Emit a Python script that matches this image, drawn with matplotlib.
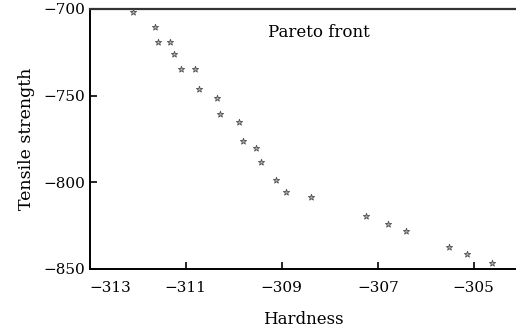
import numpy as np
import matplotlib
matplotlib.use('Agg')
import matplotlib.pyplot as plt

# Pareto front points
hardness = [-312.09, -311.65, -311.57, -311.33, -311.24, -311.10, -310.80, -310.72,
            -310.35, -310.29, -309.90, -309.81, -309.54, -309.44, -309.12, -308.91,
            -308.39, -307.24, -306.79, -306.42, -305.51, -305.14, -304.61]
tensile = [-701.9, -710.4, -719.0, -719.2, -725.8, -734.4, -734.6, -746.2,
           -751.3, -760.4, -765.4, -776.2, -780.2, -788.3, -798.5, -805.6,
           -808.3, -819.3, -824.0, -827.9, -837.5, -841.5, -846.7]

x_ticks = [-313, -311, -309, -307, -305]
y_ticks = [-700, -750, -800, -850]

plt.rcParams['font.family'] = 'DejaVu Serif'
plt.rcParams['mathtext.fontset'] = 'dejavuserif'

fig = plt.figure(figsize=(5.16, 3.28), dpi=100)
ax = fig.add_axes([0.174, 0.180, 0.826, 0.7926])

ax.scatter(hardness, tensile, marker='*', s=22, facecolor='#b5b5b5',
           edgecolor='#505050', linewidth=0.6, zorder=3)

ax.set_xlim(-313, -304.12)
ax.set_ylim(-850, -700)
ax.set_xticks(x_ticks)
ax.set_yticks(y_ticks)
ax.set_xticklabels(['\u2212' + str(abs(t)) for t in x_ticks])
ax.set_yticklabels(['\u2212' + str(abs(t)) for t in y_ticks])
ax.get_xticklabels()[0].set_horizontalalignment('left')

ax.tick_params(direction='in', length=5, width=1.2, labelsize=11, pad=9)
ax.tick_params(axis='y', pad=3)

for side in ['left', 'bottom']:
    ax.spines[side].set_linewidth(1.4)
ax.spines['top'].set_linewidth(1.6)
ax.spines['top'].set_color('#333333')
ax.spines['right'].set_visible(False)

ax.set_xlabel('Hardness', fontsize=12, labelpad=11)
ax.set_ylabel('Tensile strength', fontsize=12.5, labelpad=6)

ax.text(-309.29, -713.8, 'Pareto front', fontsize=12, va='center', ha='left')

fig.savefig('out.png', dpi=100)
